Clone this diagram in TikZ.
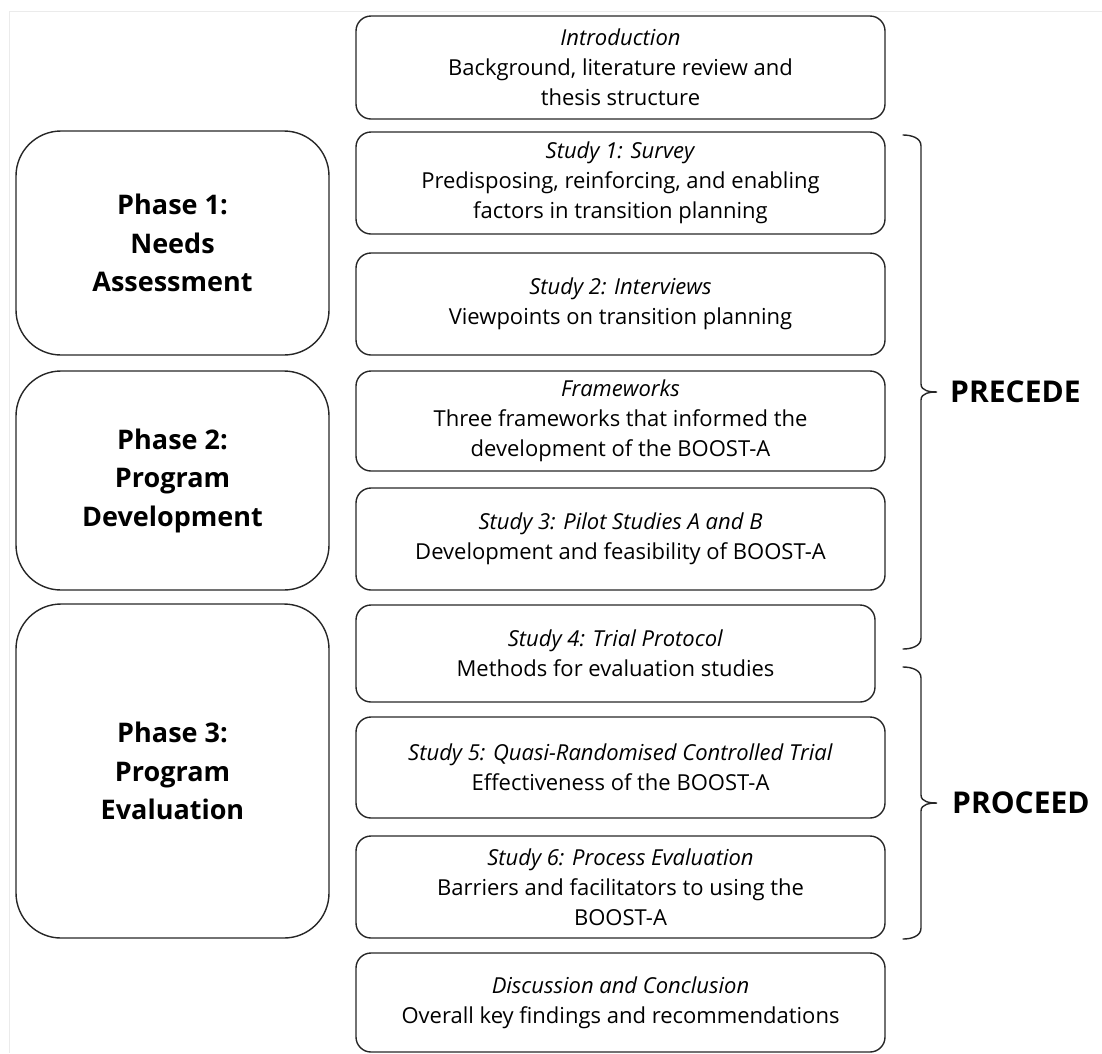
\documentclass[tikz,border=0pt]{standalone}
\usepackage{fontspec}
\setmainfont{Open Sans}
\usetikzlibrary{positioning}
\tikzset{
  etapa/.style={draw=black!85, line width=1.4pt, rounded corners=15pt, minimum width=529pt, minimum height=#1, align=center, inner sep=0pt, font=\fontsize{22}{30}\selectfont},
  etapa/.default=102pt,
  fase/.style={draw=black!85, line width=1.4pt, rounded corners=45pt, minimum width=313pt, minimum height=#1, align=center, inner sep=0pt, font=\bfseries\fontsize{27}{38.5}\selectfont},
  chave/.style={draw=black!85, line width=1.4pt, line cap=round},
  rotulo/.style={anchor=west, inner sep=0pt, font=\bfseries\fontsize{30}{34}\selectfont},
}

\begin{document}
\begin{tikzpicture}[x=1pt, y=-1pt]
  \useasboundingbox (0,0) rectangle (1102,1053);
  \draw[black!8, line width=1pt] (9,1053) -- (9,11) -- (1102,11);
  % coluna central
  \node[etapa=103pt] (intro) at (620.5,67.5) {\textit{Introduction}\\Background, literature review and\\thesis structure};
  \node[etapa] (est1) at (620.5,183) {\textit{Study 1: Survey}\\Predisposing, reinforcing, and enabling\\factors in transition planning};
  \node[etapa] (est2) at (620.5,304) {\textit{Study 2: Interviews}\\Viewpoints on transition planning};
  \node[etapa=100pt] (quadros) at (620.5,421) {\textit{Frameworks}\\Three frameworks that informed the\\development of the BOOST-A};
  \node[etapa] (est3) at (620.5,539) {\textit{Study 3: Pilot Studies A and B}\\Development and feasibility of BOOST-A};
  \node[etapa=97pt, minimum width=519pt] (est4) at (615.5,653.5) {\textit{Study 4: Trial Protocol}\\Methods for evaluation studies};
  \node[etapa=101pt] (est5) at (620.5,767.5) {\textit{Study 5: Quasi-Randomised Controlled Trial}\\Effectiveness of the BOOST-A};
  \node[etapa] (est6) at (620.5,887) {\textit{Study 6: Process Evaluation}\\Barriers and facilitators to using the\\BOOST-A};
  \node[etapa=99pt] (disc) at (620.5,1002.5) {\textit{Discussion and Conclusion}\\Overall key findings and recommendations};
  % fases
  \node[fase=224pt] (fase1) at (172.5,243) {Phase 1:\\Needs\\Assessment};
  \node[fase=219pt] (fase2) at (172.5,480.5) {Phase 2:\\Program\\Development};
  \node[fase=334pt] (fase3) at (172.5,771) {Phase 3:\\Program\\Evaluation};
  % chaves
  \coordinate (pcA) at (903,135);
  \coordinate (pcB) at (903,649);
  \coordinate (pdA) at (903,667);
  \coordinate (pdB) at (903,939);
  \node[rotulo] (precede) at (950,392) {PRECEDE};
  \node[rotulo] (proceed) at (952,803) {PROCEED};
  \draw[chave] (pcA) to[out=0, in=90] (921,146) -- (921,384) to[out=-90, in=180] (937,392)
    to[out=180, in=90] (921,400) -- (921,638) to[out=-90, in=0] (pcB);
  \draw[chave] (pdA) to[out=0, in=90] (921,678) -- (921,795) to[out=-90, in=180] (937,803)
    to[out=180, in=90] (921,811) -- (921,928) to[out=-90, in=0] (pdB);
\end{tikzpicture}
\end{document}
